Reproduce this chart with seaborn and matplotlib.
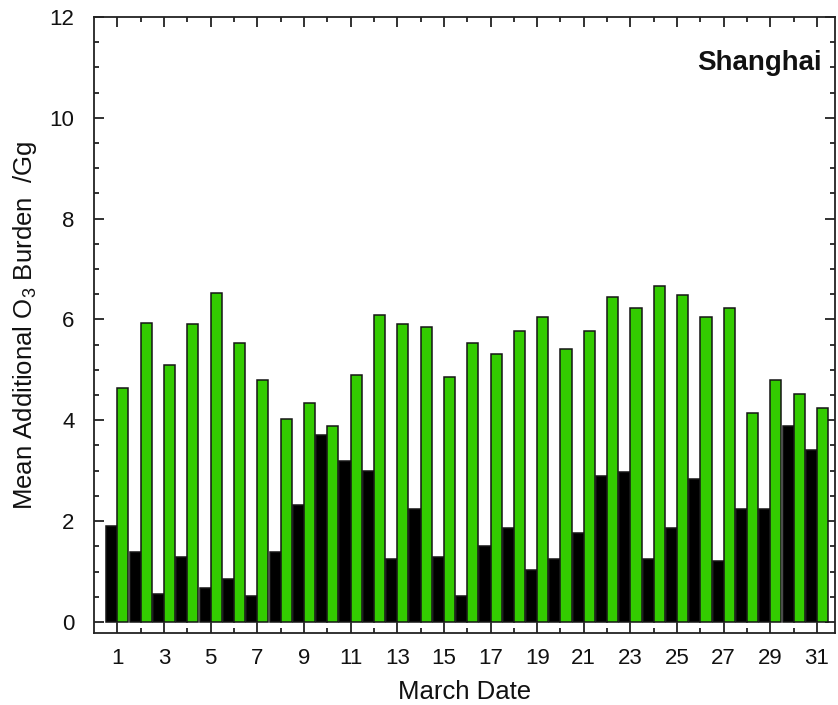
import matplotlib
matplotlib.use("Agg")
import matplotlib.pyplot as plt
import numpy as np
import pandas as pd
import seaborn as sns

# March dates and the two bar series
days = list(range(1, 32))
black_vals = [1.91, 1.39, 0.55, 1.29, 0.67, 0.85, 0.51, 1.39, 2.31, 3.70,
              3.19, 3.00, 1.25, 2.24, 1.29, 0.51, 1.50, 1.87, 1.03, 1.25,
              1.76, 2.90, 2.97, 1.25, 1.87, 2.83, 1.21, 2.24, 2.24, 3.89,
              3.41]
green_vals = [4.65, 5.93, 5.09, 5.90, 6.52, 5.53, 4.80, 4.02, 4.35, 3.89,
              4.90, 6.08, 5.90, 5.85, 4.86, 5.53, 5.31, 5.78, 6.04, 5.42,
              5.78, 6.45, 6.22, 6.67, 6.48, 6.04, 6.22, 4.14, 4.80, 4.53,
              4.24]
series_names = ["black", "green"]
series_colors = ["#000000", "#33cc00"]

df = pd.DataFrame({
    "day": days * 2,
    "burden": black_vals + green_vals,
    "series": [series_names[0]] * len(days) + [series_names[1]] * len(days),
})

sns.set_style("ticks")
plt.rcParams["font.family"] = ["Liberation Sans", "DejaVu Sans"]
plt.rcParams["mathtext.fontset"] = "custom"
plt.rcParams["mathtext.rm"] = "Liberation Sans"
plt.rcParams["mathtext.it"] = "Liberation Sans:italic"
plt.rcParams["text.color"] = "#111111"
plt.rcParams["axes.labelcolor"] = "#111111"
plt.rcParams["xtick.labelcolor"] = "#111111"
plt.rcParams["ytick.labelcolor"] = "#111111"

fig = plt.figure(figsize=(8.38, 7.05), dpi=100)
ax = fig.add_axes([94 / 838, 1 - 633 / 705, (835 - 94) / 838, (633 - 17) / 705])

sns.barplot(data=df, x="day", y="burden", hue="series", hue_order=series_names,
            palette=series_colors, saturation=1, width=0.95, gap=0.0,
            dodge=True, edgecolor="#151515", linewidth=1.1, legend=False,
            ax=ax)

ax.set_xlim(-1, 30.77)
ax.set_ylim(-0.22, 12)

ax.set_xticks(range(0, 31, 2))
ax.set_xticklabels([str(d) for d in days[::2]])
ax.set_xticks(range(1, 30, 2), minor=True)
ax.set_yticks(range(0, 13, 2))
ax.set_yticks(np.arange(0, 12.01, 0.5), minor=True)

for s in ax.spines.values():
    s.set_visible(True)
    s.set_linewidth(1.3)
    s.set_color("#222222")

ax.tick_params(which="both", direction="in", top=True, right=True,
               color="#222222", width=1.3)
ax.tick_params(which="major", length=7, labelsize=16)
ax.tick_params(which="minor", length=3.5)
ax.tick_params(axis="y", which="major", pad=14)
ax.tick_params(axis="x", which="major", pad=11)

ax.set_xlabel("March Date", fontsize=18.5, labelpad=8)
ax.set_ylabel("Mean Additional O$_3$ Burden  /Gg", fontsize=18.5, labelpad=8)

ax.text(0.982, 0.925, "Shanghai", transform=ax.transAxes, ha="right",
        va="center", fontsize=20, fontweight="bold")

fig.savefig("out.png", dpi=100)
